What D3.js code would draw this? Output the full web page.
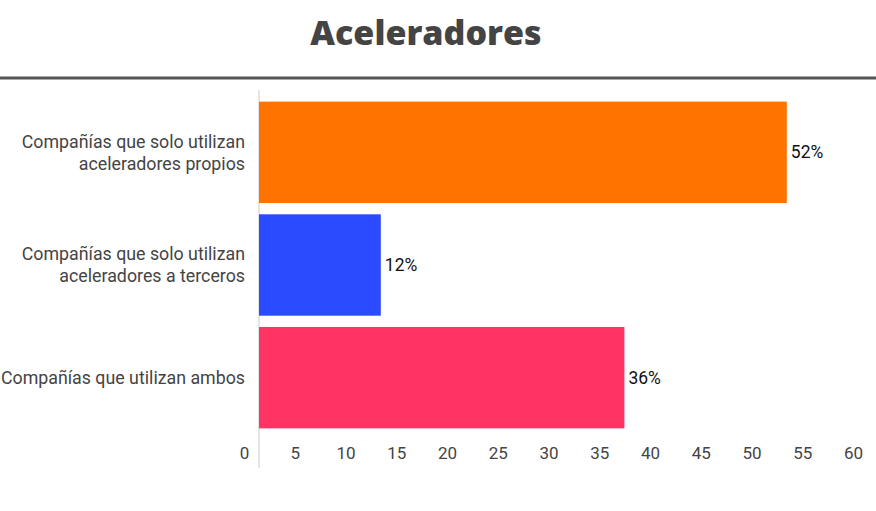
<!DOCTYPE html>
<html>
<head>
<meta charset="utf-8">
<script src="https://cdn.jsdelivr.net/npm/d3@7"></script>
<style>
  body { margin: 0; background: #fff; }
  text { font-family: Roboto, "Noto Sans", sans-serif; }
</style>
</head>
<body>
<div id="chart"></div>
<script>
const categories = [
  ["Compañías que solo utilizan", "aceleradores propios"],
  ["Compañías que solo utilizan", "aceleradores a terceros"],
  ["Compañías que utilizan ambos"]
];
const values = [52, 12, 36];
const labels = ["52%", "12%", "36%"];
const colors = ["#ff7300", "#2a4bff", "#ff3465"];
const ticks = [0, 5, 10, 15, 20, 25, 30, 35, 40, 45, 50, 55, 60];

const width = 876, height = 511;

const svg = d3.select("#chart")
  .append("svg")
    .attr("width", width)
    .attr("height", height);

// title + rule
svg.append("text")
  .attr("x", 426)
  .attr("y", 45)
  .attr("text-anchor", "middle")
  .style("font-family", "'Open Sans', sans-serif")
  .style("font-weight", 800)
  .style("font-size", "34px")
  .attr("fill", "#444")
  .text("Aceleradores");

svg.append("rect")
  .attr("x", 0).attr("y", 76.5)
  .attr("width", width).attr("height", 3)
  .attr("fill", "#555");

const x = d3.scaleLinear()
  .domain([0, 60])
  .range([259, 868]);

const y = d3.scaleBand()
  .domain(d3.range(categories.length))
  .range([96, 434])
  .paddingInner(0.1)
  .paddingOuter(0.05);

// baseline
svg.append("line")
  .attr("x1", x(0)).attr("x2", x(0))
  .attr("y1", 90).attr("y2", 468)
  .attr("stroke", "#dcdcdc")
  .attr("stroke-width", 1.5);

// bars
svg.selectAll("rect.bar")
  .data(values)
  .enter()
  .append("rect")
    .attr("class", "bar")
    .attr("x", x(0))
    .attr("y", (d, i) => y(i))
    .attr("width", d => x(d) - x(0))
    .attr("height", y.bandwidth())
    .attr("fill", (d, i) => colors[i]);

// value labels
svg.selectAll("text.val")
  .data(values)
  .enter()
  .append("text")
    .attr("class", "val")
    .attr("x", d => x(d) + 4)
    .attr("y", (d, i) => y(i) + y.bandwidth() / 2)
    .attr("dy", "0.35em")
    .style("font-size", "17.5px")
    .attr("fill", "#111")
    .text((d, i) => labels[i]);

// category labels
const cat = svg.selectAll("text.cat")
  .data(categories)
  .enter()
  .append("text")
    .attr("class", "cat")
    .attr("text-anchor", "end")
    .style("font-size", "17.8px")
    .attr("fill", "#444")
    .attr("transform", (d, i) => `translate(245, ${y(i) + y.bandwidth() / 2})`);

cat.selectAll("tspan")
  .data(d => d.map((t, j) => ({t, j, n: d.length})))
  .enter()
  .append("tspan")
    .attr("x", 0)
    .attr("y", d => (d.j - (d.n - 1) / 2) * 22)
    .attr("dy", "0.35em")
    .text(d => d.t);

// x axis tick labels (drawn slightly left of their ticks, as in the original)
const xAxis = svg.append("g")
  .attr("transform", "translate(-15, 447)")
  .call(d3.axisBottom(x).tickValues(ticks).tickSize(0).tickPadding(0));
xAxis.select(".domain").remove();
xAxis.selectAll("text")
  .style("font-family", "Roboto, sans-serif")
  .style("font-size", "17px")
  .attr("fill", "#444");
</script>
</body>
</html>
